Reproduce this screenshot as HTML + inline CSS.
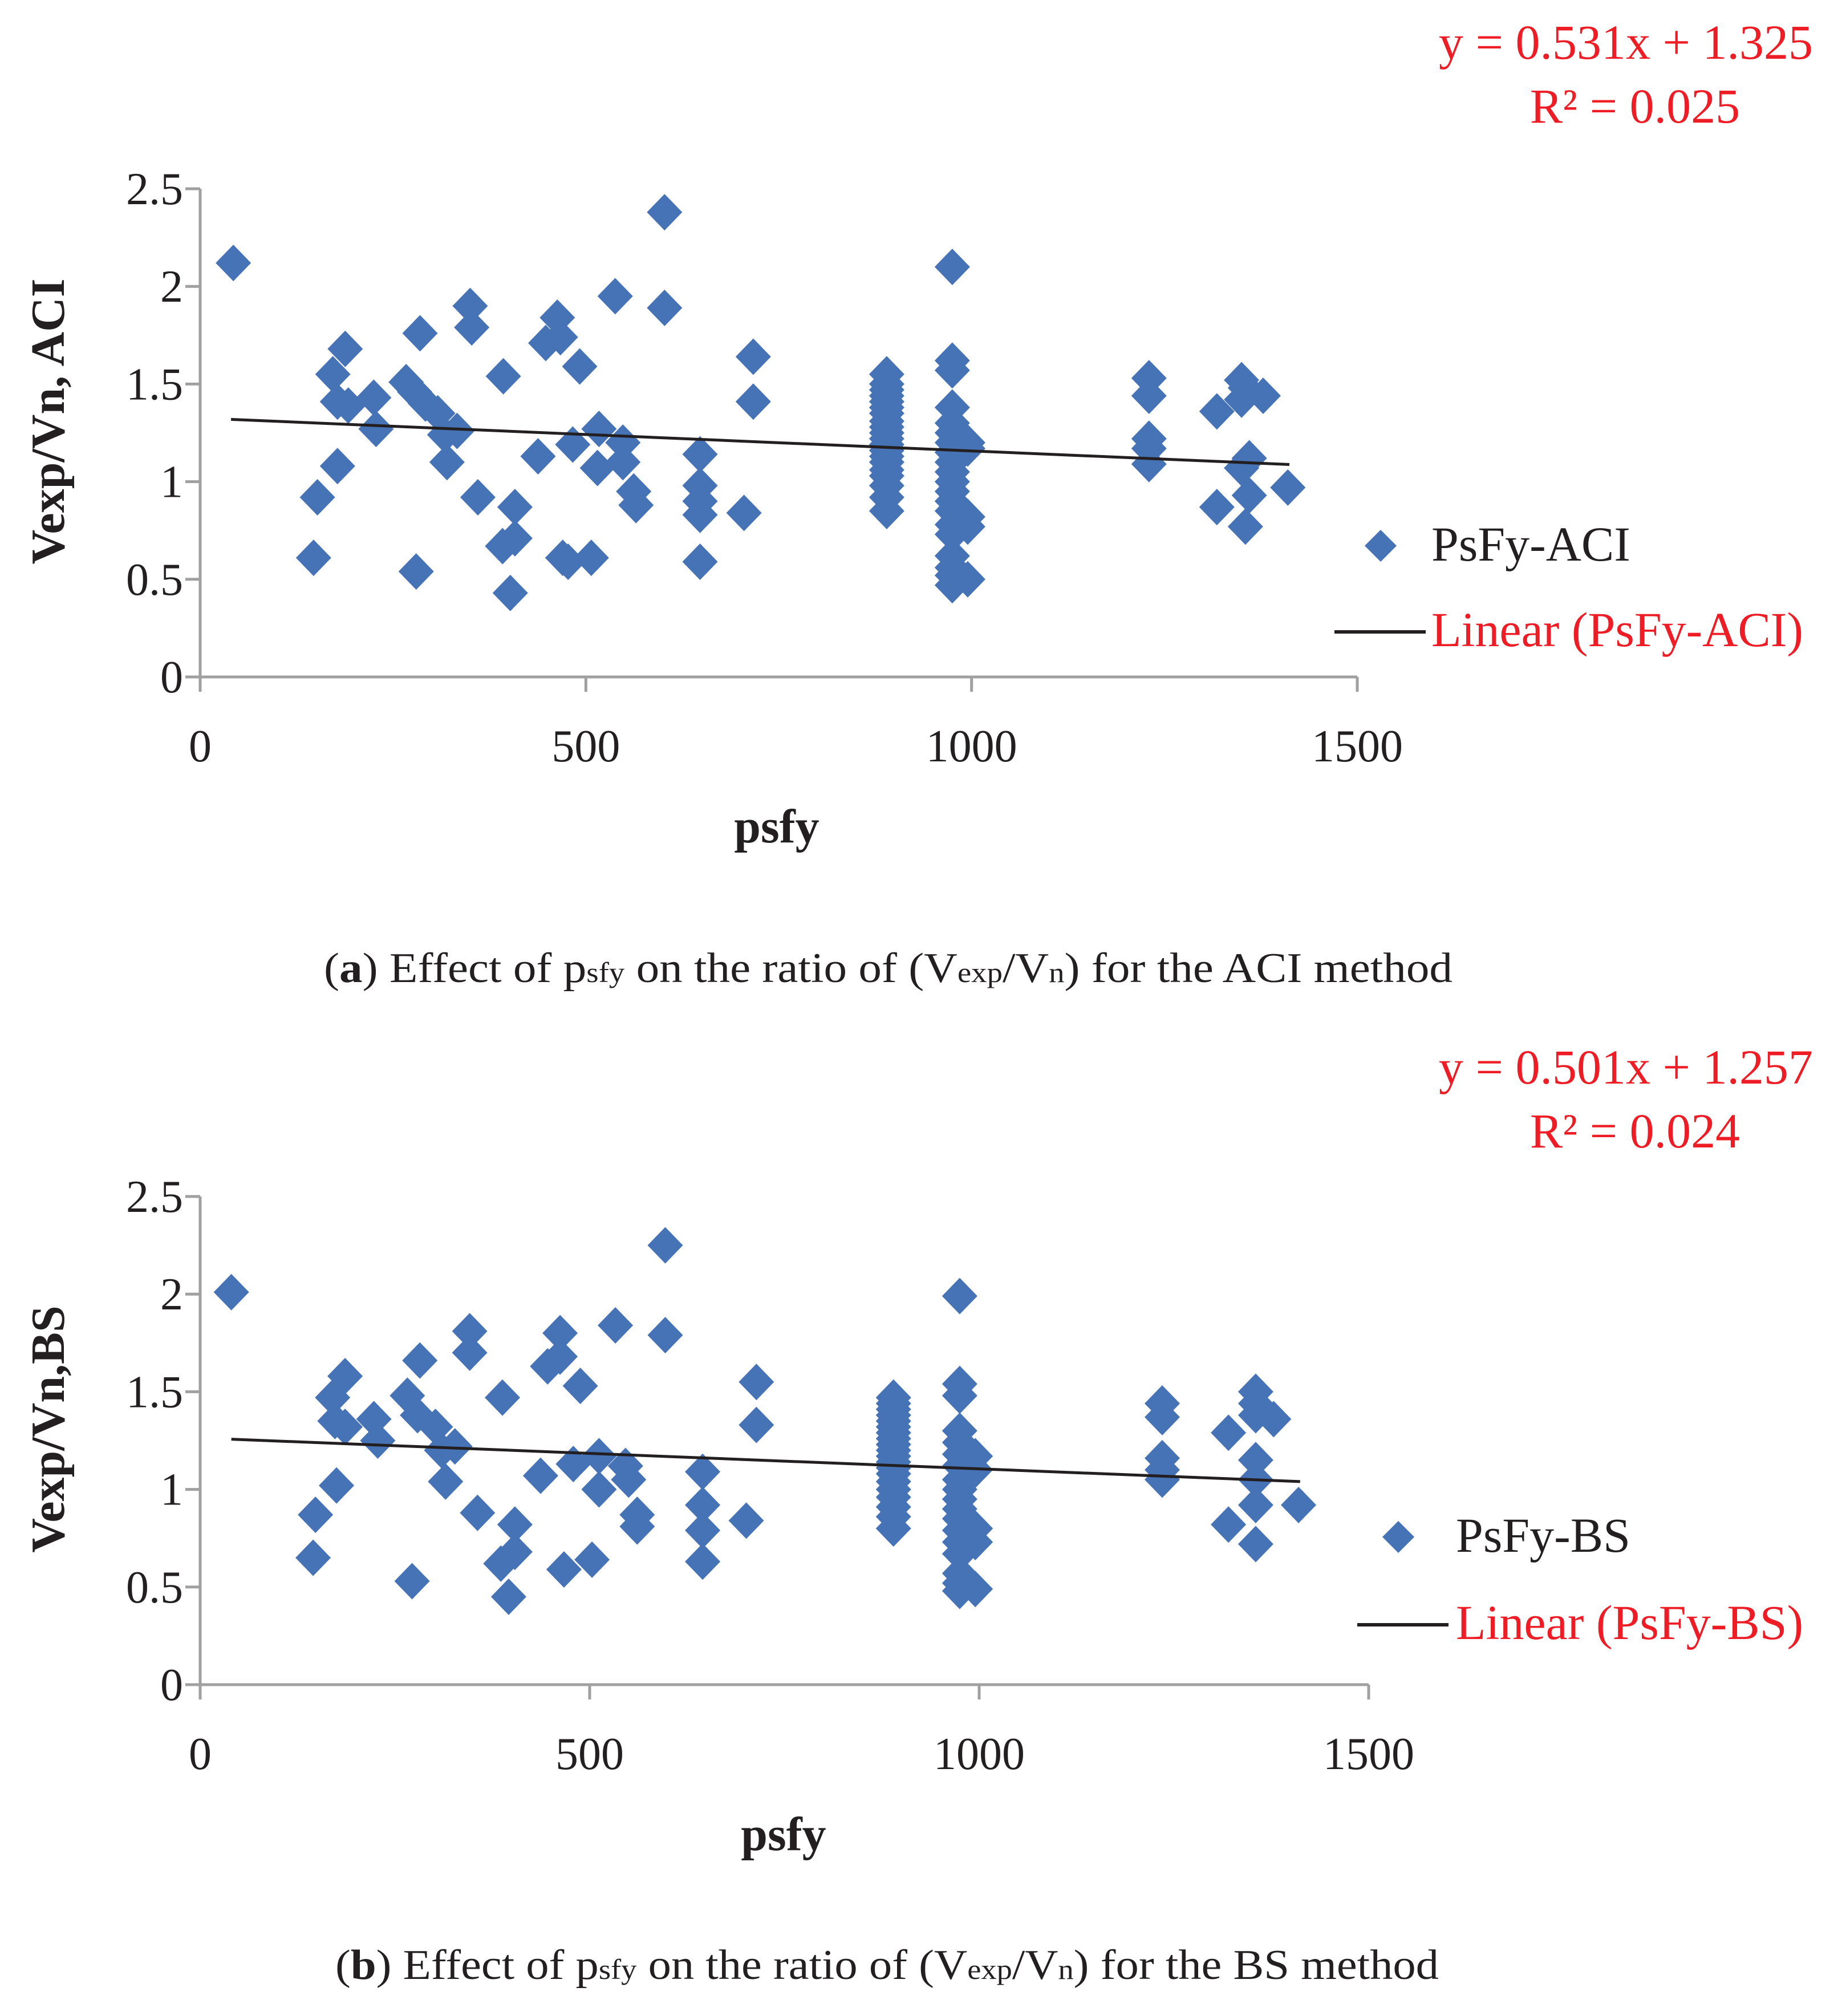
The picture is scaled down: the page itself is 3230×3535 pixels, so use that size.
<!DOCTYPE html>
<html><head><meta charset="utf-8"><style>
html,body{margin:0;padding:0;background:#fff;}
svg{display:block;}
text{font-family:"Liberation Serif",serif;}
</style></head><body>
<svg id="root" width="3230" height="3535" viewBox="0 0 3230 3535" xmlns="http://www.w3.org/2000/svg">
<g id="chartA"></g>
<g id="chartB"></g>
<text x="568" y="1722" font-size="74" fill="#231f20" textLength="1979" lengthAdjust="spacingAndGlyphs">(<tspan font-weight="bold">a</tspan>) Effect of p<tspan font-size="50">sf</tspan><tspan font-size="50">y</tspan> on the ratio of (V<tspan font-size="50">exp</tspan>/V<tspan font-size="50">n</tspan>) for the ACI method</text>
<text x="588" y="3470" font-size="74" fill="#231f20" textLength="1935" lengthAdjust="spacingAndGlyphs">(<tspan font-weight="bold">b</tspan>) Effect of p<tspan font-size="50">sf</tspan><tspan font-size="50">y</tspan> on the ratio of (V<tspan font-size="50">exp</tspan>/V<tspan font-size="50">n</tspan>) for the BS method</text>
</svg>
<script>
const xTicks = [0, 500, 1000, 1500];
const yTicks = [0, 0.5, 1, 1.5, 2, 2.5];
const yTickLabels = ["0", "0.5", "1", "1.5", "2", "2.5"];

const aciX = [43,147,152,172,178,188,178,192,225,228,267,278,280,285,292,308,317,320,333,350,352,360,393,392,402,408,408,438,448,467,463,470,477,492,483,507,517,515,538,548,548,562,565,602,602,648,648,648,648,648,705,717,717,
890,890,890,890,890,890,890,890,890,890,890,890,890,890,890,890,890,890,890,890,
975,975,975,975,975,975,975,975,975,975,975,975,975,975,975,975,975,975,975,975,995,995,995,995,995,
1230,1230,1230,1230,1230,1318,1318,1350,1355,1350,1360,1350,1360,1355,1378,1410];
const aciY = [2.12,0.61,0.92,1.55,1.08,1.68,1.41,1.39,1.43,1.27,1.51,1.46,0.54,1.76,1.40,1.35,1.24,1.10,1.26,1.90,1.79,0.92,1.54,0.67,0.43,0.87,0.71,1.13,1.71,1.74,1.84,0.61,0.59,1.59,1.19,0.61,1.27,1.07,1.95,1.20,1.10,0.95,0.88,2.38,1.89,1.14,0.98,0.90,0.83,0.59,0.84,1.64,1.41,
1.55,1.50,1.47,1.44,1.41,1.38,1.35,1.31,1.28,1.25,1.22,1.19,1.16,1.13,1.10,1.06,1.03,0.98,0.92,0.85,
2.10,1.62,1.57,1.38,1.30,1.25,1.20,1.15,1.10,1.05,1.00,0.95,0.90,0.85,0.78,0.73,0.62,0.56,0.52,0.47,1.20,1.17,0.82,0.77,0.50,
1.53,1.44,1.22,1.17,1.09,1.36,0.87,1.52,1.48,1.42,1.12,1.07,0.93,0.77,1.44,0.97];

const bsX = [40,145,148,170,175,186,173,186,223,228,266,272,282,279,302,310,315,327,346,346,356,388,386,396,404,404,437,446,462,462,467,488,479,503,512,512,533,546,550,561,561,597,597,645,645,645,645,701,714,714,
890,890,890,890,890,890,890,890,890,890,890,890,890,890,890,890,890,890,890,890,
975,975,975,975,975,975,975,975,975,975,975,975,975,975,975,975,975,975,995,995,995,995,995,
1235,1235,1235,1235,1235,1320,1320,1355,1355,1355,1355,1355,1355,1355,1378,1410];
const bsY = [2.01,0.65,0.87,1.47,1.02,1.58,1.35,1.32,1.36,1.25,1.48,0.53,1.66,1.38,1.32,1.20,1.04,1.22,1.81,1.70,0.88,1.47,0.62,0.45,0.82,0.68,1.07,1.63,1.68,1.80,0.59,1.53,1.13,0.64,1.17,1.00,1.84,1.12,1.05,0.87,0.81,2.25,1.79,1.09,0.92,0.79,0.63,0.84,1.55,1.33,
1.47,1.44,1.41,1.38,1.35,1.32,1.29,1.26,1.23,1.20,1.17,1.14,1.11,1.08,1.04,1.00,0.96,0.91,0.86,0.80,
1.99,1.54,1.48,1.30,1.24,1.18,1.12,1.05,1.00,0.95,0.90,0.85,0.79,0.73,0.67,0.57,0.52,0.48,1.17,1.10,0.80,0.73,0.49,
1.44,1.37,1.16,1.10,1.05,1.29,0.82,1.50,1.44,1.38,1.15,1.05,0.92,0.72,1.36,0.92];

const aciTrendX = [40, 1412];
const aciTrendY = [1.319, 1.088];
const bsTrendX = [40, 1412];
const bsTrendY = [1.257, 1.040];

const NS = "http://www.w3.org/2000/svg";
function mk(tag, attrs, parent, txt) {
  const e = document.createElementNS(NS, tag);
  for (const k in attrs) e.setAttribute(k, attrs[k]);
  if (txt !== undefined) e.textContent = txt;
  parent.appendChild(e);
  return e;
}

function drawChart(g, cfg) {
  const sx = v => cfg.x0 + (v / 1500) * (cfg.x1 - cfg.x0);
  const sy = v => cfg.y0 - (v / 2.5) * (cfg.y0 - cfg.y1);
  const axis = mk('g', {}, g);
  
  
  const ya = mk('line', {x1: cfg.x0, y1: sy(2.5), x2: cfg.x0, y2: cfg.y0, stroke: '#a0a0a0', 'stroke-width': 5}, axis);
  
  
  const xa = mk('line', {x1: cfg.x0 - 2, y1: cfg.y0, x2: cfg.x1, y2: cfg.y0, stroke: '#a0a0a0', 'stroke-width': 5}, axis);
  
  
  yTicks.forEach((t, i) => {
    const y = sy(t);
    mk('line', {x1: cfg.x0 - 26, y1: y, x2: cfg.x0, y2: y, stroke: '#a0a0a0', 'stroke-width': 5}, axis);
    const lb = mk('text', {x: cfg.x0 - 30, y: y + 27, 'font-size': 80, 'text-anchor': 'end', fill: '#231f20'}, axis, yTickLabels[i]);
    
    
  });
  xTicks.forEach(t => {
    const x = sx(t);
    mk('line', {x1: x, y1: cfg.y0, x2: x, y2: cfg.y0 + 26, stroke: '#a0a0a0', 'stroke-width': 5}, axis);
    const lb = mk('text', {x: x, y: cfg.y0 + 148, 'font-size': 80, 'text-anchor': 'middle', fill: '#231f20'}, axis, String(t));
    
    
  });
  const xt = mk('text', {x: cfg.xtX, y: cfg.y0 + 290, 'font-size': 84, 'font-weight': 'bold', 'text-anchor': 'middle', fill: '#231f20'}, g, 'psfy');
  
  
  const ymid = (sy(0) + sy(2.5)) / 2 - 20;
  const yt = mk('text', {x: 0, y: 0, 'font-size': 84, 'font-weight': 'bold', 'text-anchor': 'middle', fill: '#231f20', transform: `translate(112,${ymid}) rotate(-90)`}, g, cfg.ytitle);
  
  

  const pts = mk('g', {fill: '#4672b6'}, g);
  
  
  const hw = 31, hh = 32;
  for (let i = 0; i < cfg.xs.length; i++) {
    const cx = sx(cfg.xs[i]), cy = sy(cfg.ys[i]);
    const p = mk('polygon', {points: `${cx},${cy - hh} ${cx + hw},${cy} ${cx},${cy + hh} ${cx - hw},${cy}`}, pts);
    
    
  }
  const tl = mk('line', {x1: sx(cfg.tx[0]), y1: sy(cfg.ty[0]), x2: sx(cfg.tx[1]), y2: sy(cfg.ty[1]), stroke: '#231f20', 'stroke-width': 5}, g);
  
  

  const lg = mk('g', {}, g);
  
  
  const L = cfg.leg;
  const lm = mk('polygon', {fill: '#4672b6', points: `${L.mx},${L.my - 28} ${L.mx + 28},${L.my} ${L.mx},${L.my + 28} ${L.mx - 28},${L.my}`}, lg);
  
  
  const lt1 = mk('text', {x: L.tx, y: L.my + 26, 'font-size': 86, fill: '#231f20'}, lg, cfg.series);
  
  
  const ll = mk('line', {x1: L.lx1, y1: L.ly, x2: L.lx2, y2: L.ly, stroke: '#231f20', 'stroke-width': 6}, lg);
  
  
  const lt2 = mk('text', {x: L.tx, y: L.ly + 25, 'font-size': 86, fill: '#ee1c24'}, lg, 'Linear (' + cfg.series + ')');
  
  

  const e1 = mk('text', {x: 3179, y: cfg.eqY, 'font-size': 86, 'text-anchor': 'end', fill: '#ee1c24'}, g, cfg.eq);
  
  
  const e2 = mk('text', {x: 2867, y: cfg.eqY + 112, 'font-size': 86, 'text-anchor': 'middle', fill: '#ee1c24'}, g, cfg.r2);
  
  
}

drawChart(document.getElementById('chartA'), {
  x0: 351, x1: 2380, y0: 1187, y1: 331, xs: aciX, ys: aciY, tx: aciTrendX, ty: aciTrendY,
  ytitle: 'Vexp/Vn, ACI', series: 'PsFy-ACI', xtX: 1362,
  leg: {mx: 2421, my: 957, tx: 2510, lx1: 2340, lx2: 2500, ly: 1108},
  eq: 'y = 0.531x + 1.325', r2: 'R² = 0.025', eqY: 103
});
drawChart(document.getElementById('chartB'), {
  x0: 351, x1: 2400, y0: 2954, y1: 2098, xs: bsX, ys: bsY, tx: bsTrendX, ty: bsTrendY,
  ytitle: 'Vexp/Vn,BS', series: 'PsFy-BS', xtX: 1374,
  leg: {mx: 2452, my: 2695, tx: 2553, lx1: 2380, lx2: 2540, ly: 2849},
  eq: 'y = 0.501x + 1.257', r2: 'R² = 0.024', eqY: 1900
});
</script>
</body></html>
